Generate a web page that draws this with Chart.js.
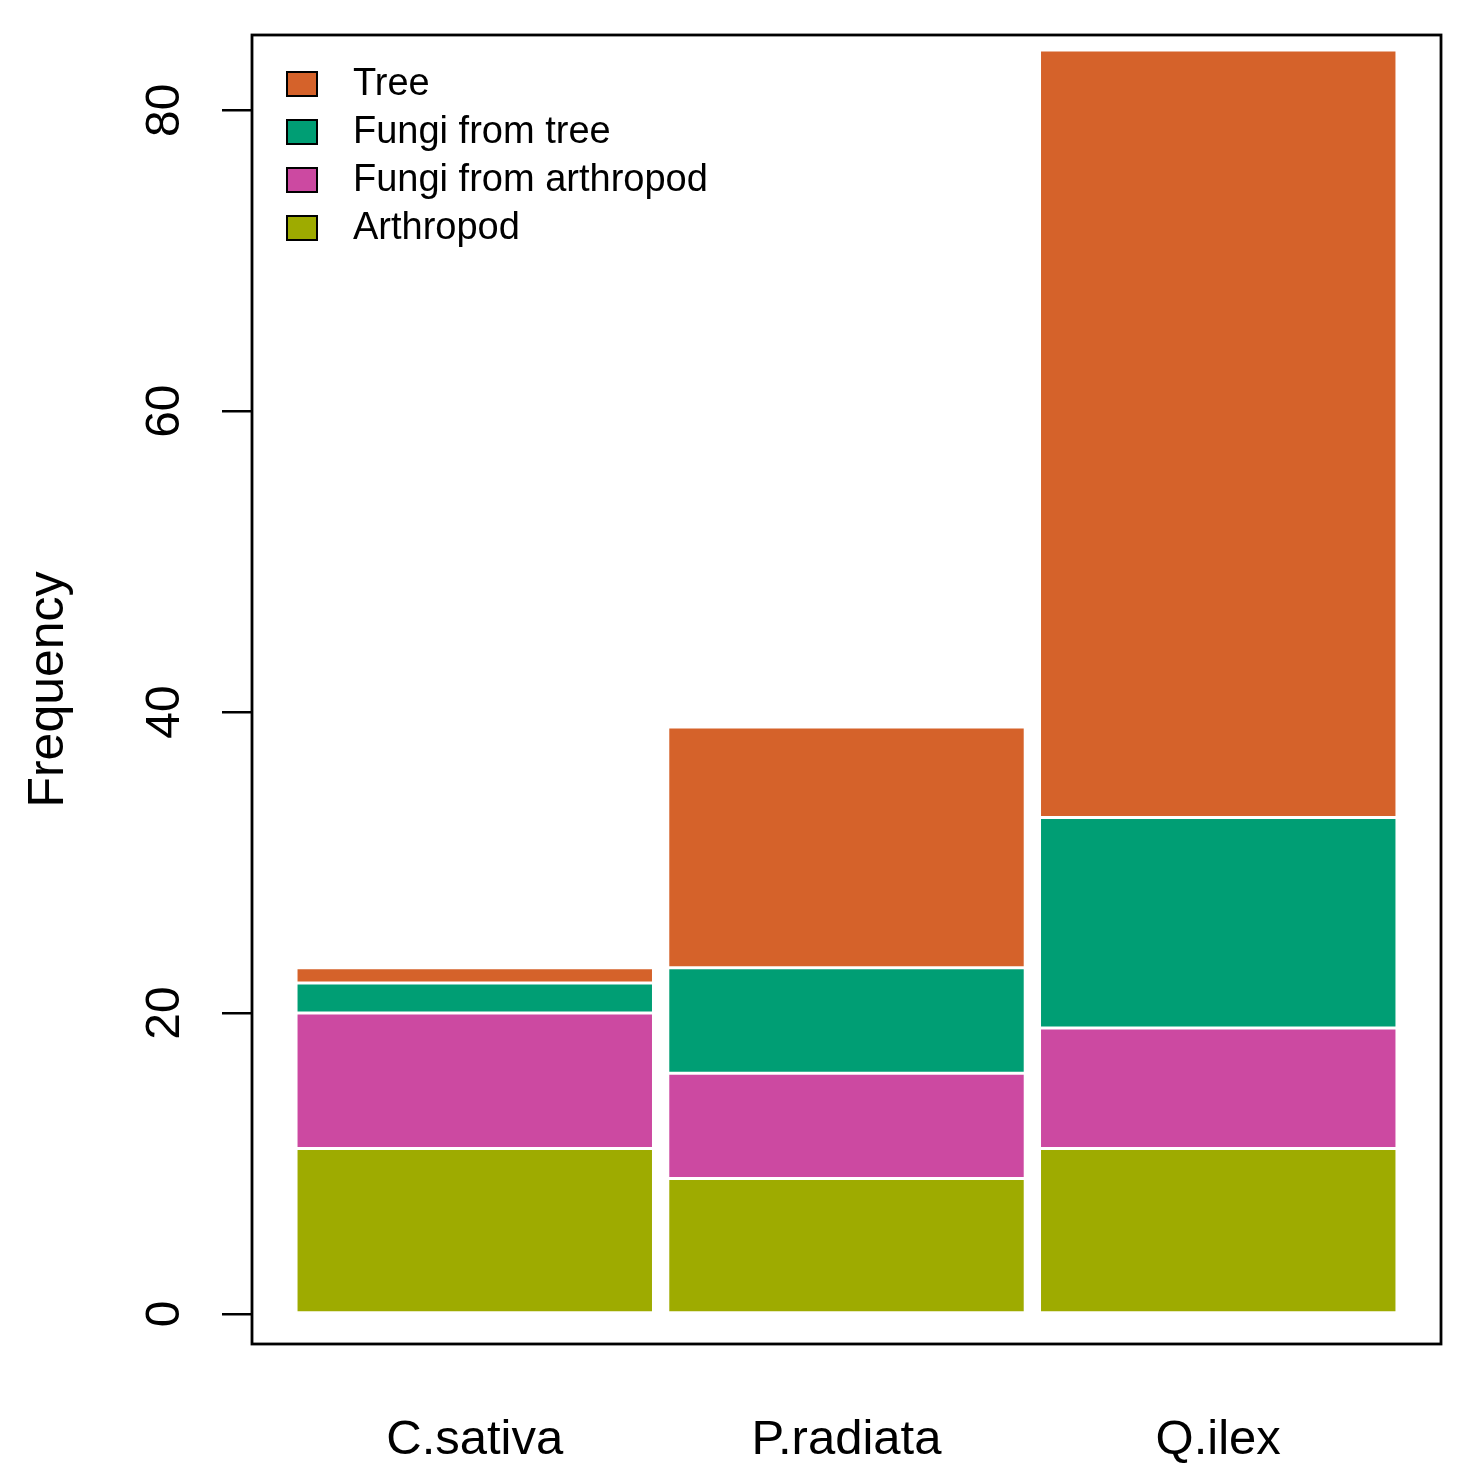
<!DOCTYPE html>
<html>
<head>
<meta charset="utf-8">
<script src="https://cdn.jsdelivr.net/npm/chart.js@4.4.1/dist/chart.umd.min.js"></script>
<style>
  html, body { margin: 0; padding: 0; background: #ffffff; }
  #wrap { width: 1473px; height: 1478px; }
</style>
</head>
<body>
<div id="wrap"><canvas id="c" width="1473" height="1478"></canvas></div>
<script>
// ---- data ----
const categories = ['C.sativa', 'P.radiata', 'Q.ilex'];
const arthropod = [11, 9, 11];
const fungiFromArthropod = [9, 7, 8];
const fungiFromTree = [2, 7, 14];
const tree = [1, 16, 51];
const yTickValues = [0, 20, 40, 60, 80];

// ---- layout helpers (R barplot style: width 1, space 0.04, 4% axis extension) ----
const SPACE = 0.04;
const barCenter = i => SPACE + 0.5 + i * (1 + SPACE);
const xSpan = 3 + 2 * SPACE;
const X_MIN = SPACE - 0.04 * xSpan;
const X_MAX = 3 * (1 + SPACE) + 0.04 * xSpan;

const toPoints = arr => arr.map((v, i) => ({ x: barCenter(i), y: v }));

const FONT = '"Liberation Sans", Arial, Helvetica, sans-serif';

const seriesDefs = [
  { label: 'Arthropod', values: arthropod, color: '#9EAB00' },
  { label: 'Fungi from arthropod', values: fungiFromArthropod, color: '#CC49A1' },
  { label: 'Fungi from tree', values: fungiFromTree, color: '#009E74' },
  { label: 'Tree', values: tree, color: '#D5622A' }
];

const datasets = seriesDefs.map(s => ({
  label: s.label,
  data: toPoints(s.values),
  backgroundColor: s.color,
  borderColor: '#ffffff',
  borderWidth: 1.5,
  borderSkipped: false,
  categoryPercentage: 1,
  barPercentage: 1 / (1 + SPACE)
}));

const framePlugin = {
  id: 'frame',
  afterDraw(chart) {
    const { ctx, chartArea: a } = chart;
    ctx.save();
    ctx.strokeStyle = '#000';
    ctx.lineWidth = 2.8;
    ctx.strokeRect(a.left, a.top, a.right - a.left, a.bottom - a.top);
    ctx.restore();
  }
};

const legendPlugin = {
  id: 'insideLegend',
  afterDraw(chart) {
    const { ctx, chartArea: a } = chart;
    const items = chart.data.datasets.slice().reverse();
    ctx.save();
    ctx.font = '38px ' + FONT;
    ctx.textBaseline = 'middle';
    ctx.textAlign = 'left';
    items.forEach((ds, k) => {
      const cy = a.top + 49 + k * 48;
      const bx = a.left + 35;
      ctx.fillStyle = ds.backgroundColor;
      ctx.fillRect(bx, cy - 12, 30, 24);
      ctx.strokeStyle = '#000';
      ctx.lineWidth = 2;
      ctx.strokeRect(bx, cy - 12, 30, 24);
      ctx.fillStyle = '#000';
      ctx.fillText(ds.label, a.left + 101, cy + 1);
    });
    ctx.restore();
  }
};

const noEdgePadding = scale => {
  scale.paddingTop = 0;
  scale.paddingBottom = 0;
  scale.paddingLeft = 0;
  scale.paddingRight = 0;
};

new Chart(document.getElementById('c'), {
  type: 'bar',
  data: { datasets },
  options: {
    responsive: false,
    animation: false,
    devicePixelRatio: 1,
    layout: { padding: { top: 35, right: 32, left: 0, bottom: 0 } },
    plugins: { legend: { display: false }, tooltip: { enabled: false } },
    scales: {
      x: {
        type: 'linear',
        stacked: true,
        offset: false,
        min: X_MIN,
        max: X_MAX,
        grid: { display: false, drawTicks: false },
        border: { display: false },
        afterBuildTicks(scale) {
          scale.ticks = categories.map((c, i) => ({ value: barCenter(i) }));
        },
        afterFit(scale) { scale.height = 134; noEdgePadding(scale); },
        ticks: {
          autoSkip: false,
          maxRotation: 0,
          minRotation: 0,
          padding: 67,
          color: '#000',
          font: { family: FONT, size: 49 },
          callback: (v, i) => categories[i]
        }
      },
      y: {
        type: 'linear',
        stacked: true,
        min: -2,
        max: 85,
        afterBuildTicks(scale) {
          scale.ticks = yTickValues.map(v => ({ value: v }));
        },
        afterFit(scale) { scale.width = 252; noEdgePadding(scale); },
        grid: {
          display: true,
          drawOnChartArea: false,
          drawTicks: true,
          tickLength: 30,
          color: '#000',
          lineWidth: 2.5
        },
        border: { display: false },
        ticks: {
          minRotation: 90,
          maxRotation: 90,
          crossAlign: 'center',
          padding: 30,
          color: '#000',
          font: { family: FONT, size: 48 }
        },
        title: {
          display: true,
          text: 'Frequency',
          color: '#000',
          font: { family: FONT, size: 50 },
          padding: { top: 19, bottom: 0 }
        }
      }
    }
  },
  plugins: [framePlugin, legendPlugin]
});
</script>
</body>
</html>
